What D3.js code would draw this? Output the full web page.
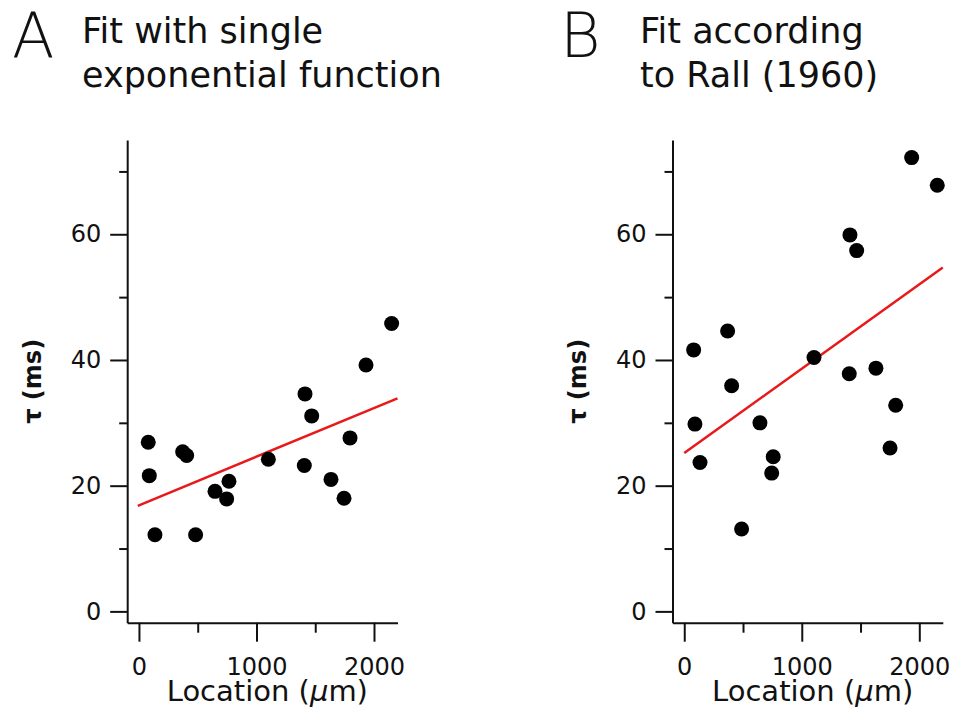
<!DOCTYPE html>
<html>
<head>
<meta charset="utf-8">
<script src="https://cdn.jsdelivr.net/npm/d3@7"></script>
<style>
  body { margin: 0; background: #fff; }
  svg { display: block; }
  svg text { font-family: "DejaVu Sans", Verdana, sans-serif; fill: #111; }
  .domain, .tick line { stroke: #111; stroke-width: 2px; }
</style>
</head>
<body>
<div id="chart"></div>
<script>
// Panel A: fit with single exponential
const locationsA = [79, 88, 136, 372, 406, 482, 647, 746, 766, 1101, 1413, 1470, 1407, 1634, 1745, 1796, 1932, 2150];
const tauA = [26.9, 21.6, 12.2, 25.4, 24.8, 12.2, 19.1, 17.9, 20.7, 24.2, 34.6, 31.1, 23.2, 21.0, 18.0, 27.6, 39.2, 45.8];
const fitA = [[-10, 16.8], [2200, 33.9]];

// Panel B: fit according to Rall (1960)
const locationsB = [80, 91, 134, 369, 403, 488, 644, 757, 744, 1104, 1410, 1467, 1404, 1631, 1751, 1799, 1935, 2153];
const tauB = [41.6, 29.8, 23.7, 44.6, 35.9, 13.1, 30.0, 24.6, 22.0, 40.4, 59.9, 57.4, 37.8, 38.7, 26.0, 32.8, 72.2, 67.8];
const fitB = [[0, 25.2], [2200, 54.7]];

const yMajor = [0, 20, 40, 60];
const yMinor = [10, 30, 50, 70];
const xMajor = [0, 1000, 2000];
const xMinor = [500, 1500];

const width = 953, height = 715;

const svg = d3.select("#chart")
  .append("svg")
  .attr("width", width)
  .attr("height", height);

function drawPanel(p) {
  const x = d3.scaleLinear().domain([-100, 2200]).range([p.left, p.left + 270.3]);
  const y = d3.scaleLinear().domain([-1.8, 75]).range([622.7, 140]);
  const g = svg.append("g");

  // panel letter + title
  g.append("text")
    .attr("x", p.letterX).attr("y", 57)
    .style("font-size", "62px").style("font-weight", 300)
    .text(p.letter);
  p.title.forEach((line, i) => {
    g.append("text")
      .attr("x", p.titleX).attr("y", 43 + i * 44)
      .style("font-size", "35px")
      .text(line);
  });

  // y axis
  g.append("g")
    .attr("transform", `translate(${x(-100)},0)`)
    .call(d3.axisLeft(y).tickValues(yMinor).tickSize(8).tickSizeOuter(0).tickFormat(""));
  g.append("g")
    .attr("transform", `translate(${x(-100)},0)`)
    .call(d3.axisLeft(y).tickValues(yMajor).tickSize(17).tickSizeOuter(0).tickPadding(9).tickFormat(d3.format("d")))
    .call(a => a.selectAll("text").style("font-size", "24px"))
    .call(a => a.select(".domain").remove());

  // x axis
  g.append("g")
    .attr("transform", `translate(0,${y(-1.8)})`)
    .call(d3.axisBottom(x).tickValues(xMinor).tickSize(10).tickSizeOuter(0).tickFormat(""));
  g.append("g")
    .attr("transform", `translate(0,${y(-1.8)})`)
    .call(d3.axisBottom(x).tickValues(xMajor).tickSize(19).tickSizeOuter(0).tickPadding(16).tickFormat(d3.format("d")))
    .call(a => a.selectAll("text").style("font-size", "24px"))
    .call(a => a.select(".domain").remove());

  // axis labels
  const xl = g.append("text")
    .attr("x", (x(-100) + x(2200)) / 2 + 5).attr("y", 701)
    .attr("text-anchor", "middle")
    .style("font-size", "29px");
  xl.append("tspan").text("Location (");
  xl.append("tspan").style("font-style", "italic").text("μ");
  xl.append("tspan").text("m)");

  g.append("text")
    .attr("transform", `translate(${p.yLabelX},${(y(-1.8) + y(75)) / 2}) rotate(-90)`)
    .attr("text-anchor", "middle")
    .style("font-size", "24px").style("font-weight", "bold")
    .text("τ (ms)");

  // fit line
  g.append("path")
    .datum(p.fit)
    .attr("fill", "none")
    .attr("stroke", "#e8191a")
    .attr("stroke-width", 2.5)
    .attr("d", d3.line().x(d => x(d[0])).y(d => y(d[1])));

  // data points
  g.selectAll("circle.pt")
    .data(p.xs.map((v, i) => [v, p.ys[i]]))
    .enter()
    .append("circle")
    .attr("class", "pt")
    .attr("cx", d => x(d[0]))
    .attr("cy", d => y(d[1]))
    .attr("r", 7.5)
    .style("fill", "#000");
}

drawPanel({
  left: 127.2, letter: "A", letterX: 12, titleX: 82, yLabelX: 41,
  title: ["Fit with single", "exponential function"],
  xs: locationsA, ys: tauA, fit: fitA
});

drawPanel({
  left: 672.5, letter: "B", letterX: 560, titleX: 640, yLabelX: 586,
  title: ["Fit according", "to Rall (1960)"],
  xs: locationsB, ys: tauB, fit: fitB
});
</script>
</body>
</html>
